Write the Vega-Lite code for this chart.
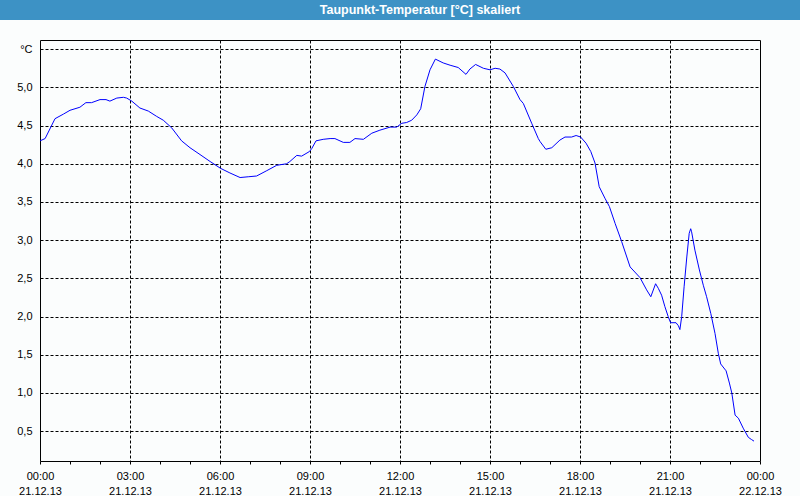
{
  "$schema": "https://vega.github.io/schema/vega-lite/v6.json",
  "padding": 0,
  "spacing": 20,
  "background": "#fbfdfd",
  "config": {"font": "Liberation Sans"},
  "vconcat": [
    {
      "width": 800,
      "height": 20,
      "view": {"fill": "#3d92c5", "stroke": null},
      "data": {"values": [{"t": "Taupunkt-Temperatur [°C] skaliert"}]},
      "mark": {"type": "text", "color": "white", "fontWeight": "bold", "font": "Liberation Sans", "fontSize": 12.5, "dx": 20, "baseline": "middle"},
      "encoding": {"text": {"field": "t", "type": "nominal"}}
    },
    {
      "width": 760,
      "height": 421,
      "view": {"stroke": null, "fill": null},
      "data": {"values": [
        {"h": 0, "v": 4.30}, {"h": 0.17, "v": 4.33}, {"h": 0.5, "v": 4.59}, {"h": 0.78, "v": 4.65},
        {"h": 1.0, "v": 4.70}, {"h": 1.33, "v": 4.74}, {"h": 1.53, "v": 4.80}, {"h": 1.72, "v": 4.80},
        {"h": 2.0, "v": 4.84}, {"h": 2.2, "v": 4.84}, {"h": 2.33, "v": 4.82}, {"h": 2.56, "v": 4.86},
        {"h": 2.78, "v": 4.87}, {"h": 2.89, "v": 4.86}, {"h": 3.06, "v": 4.82}, {"h": 3.33, "v": 4.73},
        {"h": 3.61, "v": 4.69}, {"h": 3.89, "v": 4.62}, {"h": 4.11, "v": 4.57}, {"h": 4.39, "v": 4.47},
        {"h": 4.72, "v": 4.30}, {"h": 5.0, "v": 4.21}, {"h": 5.3, "v": 4.13}, {"h": 5.67, "v": 4.03},
        {"h": 6.02, "v": 3.94}, {"h": 6.33, "v": 3.88}, {"h": 6.67, "v": 3.82}, {"h": 6.94, "v": 3.83},
        {"h": 7.22, "v": 3.84}, {"h": 7.56, "v": 3.91}, {"h": 7.89, "v": 3.98}, {"h": 8.22, "v": 4.00},
        {"h": 8.33, "v": 4.03}, {"h": 8.56, "v": 4.11}, {"h": 8.72, "v": 4.10}, {"h": 8.98, "v": 4.16},
        {"h": 9.06, "v": 4.20}, {"h": 9.2, "v": 4.30}, {"h": 9.44, "v": 4.32}, {"h": 9.67, "v": 4.33},
        {"h": 9.83, "v": 4.33}, {"h": 10.11, "v": 4.28}, {"h": 10.33, "v": 4.28}, {"h": 10.5, "v": 4.33},
        {"h": 10.78, "v": 4.32}, {"h": 11.06, "v": 4.40}, {"h": 11.33, "v": 4.44}, {"h": 11.67, "v": 4.48},
        {"h": 11.89, "v": 4.48}, {"h": 12.06, "v": 4.53}, {"h": 12.22, "v": 4.54}, {"h": 12.39, "v": 4.57},
        {"h": 12.56, "v": 4.64}, {"h": 12.69, "v": 4.72}, {"h": 12.83, "v": 5.01}, {"h": 13.0, "v": 5.23},
        {"h": 13.18, "v": 5.37}, {"h": 13.44, "v": 5.32}, {"h": 13.67, "v": 5.29}, {"h": 13.94, "v": 5.26},
        {"h": 14.2, "v": 5.17}, {"h": 14.33, "v": 5.24}, {"h": 14.52, "v": 5.30}, {"h": 14.78, "v": 5.25},
        {"h": 15.0, "v": 5.23}, {"h": 15.17, "v": 5.25}, {"h": 15.33, "v": 5.24}, {"h": 15.5, "v": 5.19},
        {"h": 15.78, "v": 5.01}, {"h": 16.0, "v": 4.84}, {"h": 16.11, "v": 4.79}, {"h": 16.39, "v": 4.53},
        {"h": 16.61, "v": 4.33}, {"h": 16.67, "v": 4.29}, {"h": 16.86, "v": 4.19}, {"h": 17.06, "v": 4.21},
        {"h": 17.33, "v": 4.31}, {"h": 17.5, "v": 4.35}, {"h": 17.72, "v": 4.35}, {"h": 17.87, "v": 4.37},
        {"h": 18.02, "v": 4.35}, {"h": 18.2, "v": 4.27}, {"h": 18.36, "v": 4.16}, {"h": 18.5, "v": 4.01},
        {"h": 18.64, "v": 3.70}, {"h": 18.83, "v": 3.55}, {"h": 18.98, "v": 3.44}, {"h": 19.17, "v": 3.22},
        {"h": 19.39, "v": 2.98}, {"h": 19.67, "v": 2.65}, {"h": 20.0, "v": 2.51}, {"h": 20.22, "v": 2.35},
        {"h": 20.36, "v": 2.26}, {"h": 20.52, "v": 2.43}, {"h": 20.61, "v": 2.37}, {"h": 20.72, "v": 2.28},
        {"h": 20.83, "v": 2.13}, {"h": 20.94, "v": 2.00}, {"h": 21.02, "v": 1.92}, {"h": 21.2, "v": 1.92},
        {"h": 21.28, "v": 1.88}, {"h": 21.33, "v": 1.83}, {"h": 21.39, "v": 2.00}, {"h": 21.47, "v": 2.39},
        {"h": 21.56, "v": 2.78}, {"h": 21.64, "v": 3.09}, {"h": 21.69, "v": 3.15}, {"h": 21.72, "v": 3.11},
        {"h": 21.83, "v": 2.87}, {"h": 21.98, "v": 2.61}, {"h": 22.11, "v": 2.41}, {"h": 22.22, "v": 2.26},
        {"h": 22.36, "v": 2.04}, {"h": 22.5, "v": 1.78}, {"h": 22.61, "v": 1.52}, {"h": 22.69, "v": 1.38},
        {"h": 22.87, "v": 1.29}, {"h": 22.98, "v": 1.13}, {"h": 23.06, "v": 1.00}, {"h": 23.17, "v": 0.71},
        {"h": 23.28, "v": 0.67}, {"h": 23.44, "v": 0.54}, {"h": 23.61, "v": 0.42}, {"h": 23.72, "v": 0.39},
        {"h": 23.8, "v": 0.37}
      ]},
      "mark": {"type": "line", "color": "#0000ff", "strokeWidth": 1},
      "encoding": {
        "x": {
          "field": "h", "type": "quantitative",
          "scale": {"domain": [0, 24], "range": [40, 760], "nice": false, "zero": false},
          "axis": {
            "title": null,
            "values": [0,1,2,3,4,5,6,7,8,9,10,11,12,13,14,15,16,17,18,19,20,21,22,23,24],
            "grid": true,
            "gridColor": "black",
            "gridDash": {"condition": {"test": "datum.value === 24", "value": []}, "value": [3, 2]},
            "gridOpacity": {"condition": {"test": "datum.value % 3 === 0 && datum.value > 0", "value": 1}, "value": 0},
            "domainColor": "black",
            "tickColor": "black",
            "tickSize": 3,
            "labelFont": "Liberation Sans",
            "labelFontSize": 11,
            "labelColor": "black",
            "labelFlush": false,
            "labelOverlap": false,
            "labelBound": false,
            "labelPadding": 6,
            "labelLineHeight": 15,
            "labelExpr": "datum.value % 3 == 0 ? [datum.value == 24 ? '00:00' : (datum.value < 10 ? '0' : '') + datum.value + ':00', datum.value < 24 ? '21.12.13' : '22.12.13'] : ''"
          }
        },
        "y": {
          "field": "v", "type": "quantitative",
          "scale": {"domain": [0.11, 5.62], "nice": false, "zero": false},
          "axis": {
            "title": null,
            "offset": -40,
            "values": [0.5, 1, 1.5, 2, 2.5, 3, 3.5, 4, 4.5, 5, 5.5, 5.62],
            "grid": true,
            "gridColor": "black",
            "gridDash": {"condition": {"test": "datum.value > 5.6", "value": []}, "value": [3, 2]},
            "gridOpacity": 1,
            "domainColor": "black",
            "ticks": false,
            "labelFont": "Liberation Sans",
            "labelFontSize": 11,
            "labelColor": "black",
            "labelPadding": 8,
            "minExtent": 0,
            "labelExpr": "datum.value > 5.6 ? '' : datum.value == 5.5 ? '°C' : replace(format(datum.value, '.1f'), '.', ',')"
          }
        }
      }
    }
  ]
}
